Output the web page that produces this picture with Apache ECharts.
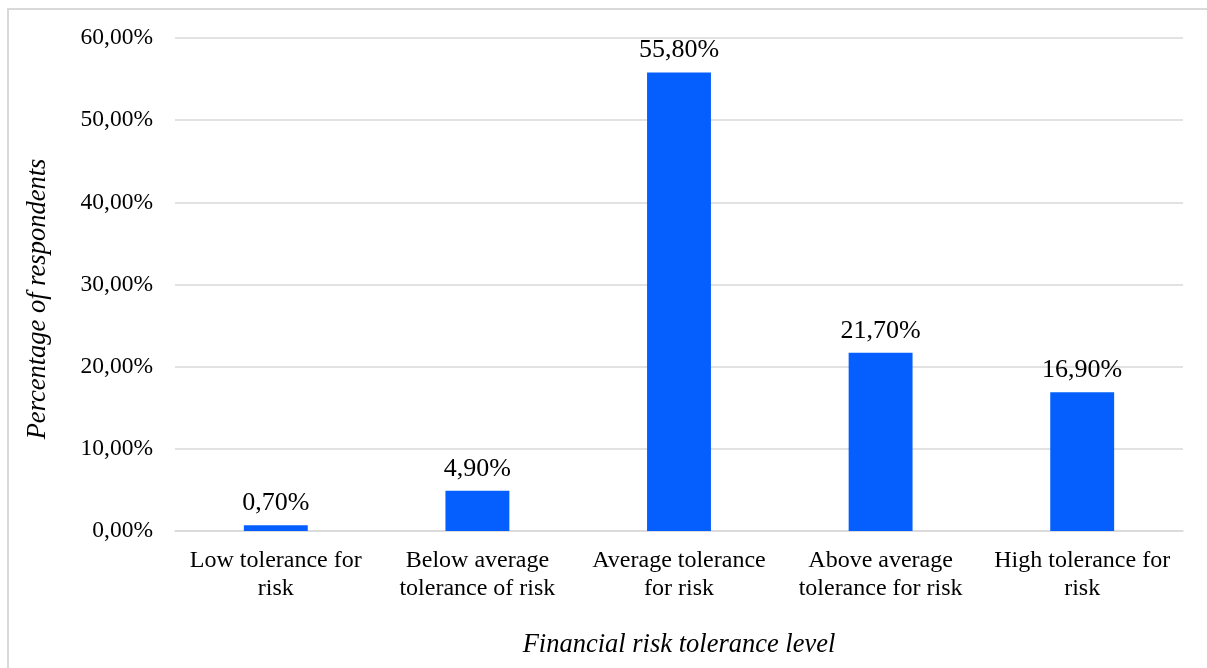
<!DOCTYPE html>
<html>
<head>
<meta charset="utf-8">
<script src="https://cdn.jsdelivr.net/npm/echarts@6/dist/echarts.min.js"></script>
<style>
  html, body { margin: 0; padding: 0; background: #fff; }
  #chart { width: 1207px; height: 668px; }
</style>
</head>
<body>
<div id="chart"></div>
<script>
// Share of respondents by financial risk tolerance level
const categories = [
  'Low tolerance for\nrisk',
  'Below average\ntolerance of risk',
  'Average tolerance\nfor risk',
  'Above average\ntolerance for risk',
  'High tolerance for\nrisk'
];
const shares = [0.70, 4.90, 55.80, 21.70, 16.90];
const yTicks = { min: 0, max: 60, interval: 10 };

const FONT = '"Liberation Serif", "Times New Roman", serif';
const fmt = v => v.toFixed(2).replace('.', ',') + '%';

const chart = echarts.init(document.getElementById('chart'), null, { renderer: 'canvas' });
chart.setOption({
  animation: false,
  backgroundColor: '#ffffff',
  graphic: [{
    type: 'rect',
    silent: true,
    shape: { x: 8, y: 9, width: 1400, height: 900 },
    style: { fill: 'none', stroke: '#d9d9d9', lineWidth: 2 }
  }, {
    type: 'text',
    x: 679,
    y: 645,
    style: {
      text: 'Financial risk tolerance level',
      font: 'italic 26.5px ' + FONT,
      fill: '#000',
      align: 'center',
      verticalAlign: 'middle'
    }
  }, {
    type: 'text',
    x: 38,
    y: 299,
    rotation: Math.PI / 2,
    style: {
      text: 'Percentage of respondents',
      font: 'italic 26.5px ' + FONT,
      fill: '#000',
      align: 'center',
      verticalAlign: 'middle'
    }
  }],
  grid: { left: 175, right: 24, top: 38, bottom: 137, containLabel: false },
  xAxis: {
    type: 'category',
    data: categories,
    axisLine: { show: true, lineStyle: { color: '#d9d9d9', width: 1.5 } },
    axisTick: { show: false },
    axisLabel: {
      interval: 0,
      margin: 16,
      color: '#000',
      fontFamily: FONT,
      fontSize: 24,
      lineHeight: 28
    }
  },
  yAxis: {
    type: 'value',
    min: yTicks.min,
    max: yTicks.max,
    interval: yTicks.interval,
    axisLine: { show: false },
    axisTick: { show: false },
    splitLine: { lineStyle: { color: '#d9d9d9', width: 1.5 } },
    axisLabel: {
      margin: 22,
      color: '#000',
      fontFamily: FONT,
      fontSize: 23.5,
      formatter: v => fmt(v)
    }
  },
  series: [{
    type: 'bar',
    data: shares,
    barWidth: '31.7%',
    itemStyle: { color: '#055FFF' },
    label: {
      show: true,
      position: 'top',
      distance: 9,
      color: '#000',
      fontFamily: FONT,
      fontSize: 26,
      formatter: p => fmt(p.value)
    }
  }]
});
</script>
</body>
</html>
